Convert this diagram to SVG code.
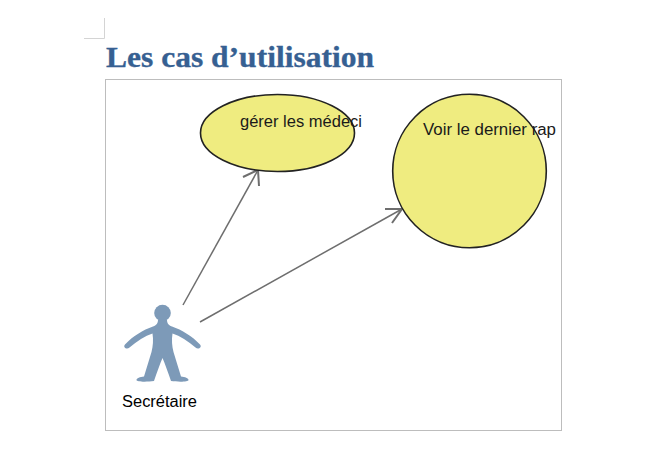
<svg xmlns="http://www.w3.org/2000/svg" width="659" height="462" viewBox="0 0 659 462">
<style>
.uc{fill:#efec80;stroke:#222;stroke-width:1.6}
.lbl{font-family:"Liberation Sans",sans-serif;font-size:16px;fill:#1a1a1a}
.conn{fill:none;stroke:#6e6e6e;stroke-width:1.5}
.head{fill:none;stroke:#6e6e6e;stroke-width:2}
</style>
<rect width="659" height="462" fill="#fff"/>
<g id="page-corner"><path d="M104.500 18V38.500H84" fill="none" stroke="#d4d4d4" stroke-width="1"/></g>
<text id="title" x="106" y="67" font-family="'Liberation Serif',serif" font-weight="700" font-size="29px" fill="#366092" stroke="#366092" stroke-width="0.3" textLength="268" lengthAdjust="spacingAndGlyphs">Les cas d’utilisation</text>
<rect id="frame" x="105.500" y="79.500" width="456" height="351" fill="#fff" stroke="#bdbdbd" stroke-width="1"/>
<g id="connectors">
<path class="conn" d="M183 305L258 170"/>
<path class="head" d="M243 177L258 170L259 186"/>
<path class="conn" d="M200 322L402 209"/>
<path class="head" d="M385 209L402 209L392 223"/>
</g>
<g id="uc-gerer">
<ellipse class="uc" cx="277.500" cy="133" rx="77" ry="38.500"/>
<text class="lbl" x="240" y="127" textLength="122" lengthAdjust="spacingAndGlyphs">gérer les médeci</text>
</g>
<g id="uc-voir">
<circle class="uc" cx="469.500" cy="171" r="76.800"/>
<text class="lbl" x="423" y="135" textLength="133" lengthAdjust="spacingAndGlyphs">Voir le dernier rap</text>
</g>
<g id="actor-secretaire">
<circle cx="162.500" cy="313" r="8.300" fill="#7d9ab8"/>
<path fill="#7d9ab8" d="M158 319.500H167C167 323 168 325 172 326.500C182 330 192 336 200 344.500C202.500 347.500 198 350 195.500 347.500C188 341 180 336 172.500 333.500C171.500 340 172 346 173.500 352L181 376.500C185 377 188.500 378 188.500 380C188.500 382 178 382 171 381C168 372 165 364 162.500 358C160 364 157 372 154 381C147 382 136.500 382 136.500 380C136.500 378 140 377 144 376.500L151.500 352C153 346 153.500 340 152.500 333.500C145 336 137 341 129.500 347.500C127 350 122.500 347.500 125 344.500C133 336 143 330 153 326.500C157 325 158 323 158 319.500Z"/>
<text class="lbl" x="122" y="407" textLength="75" lengthAdjust="spacingAndGlyphs" style="fill:#000">Secrétaire</text>
</g>
</svg>
